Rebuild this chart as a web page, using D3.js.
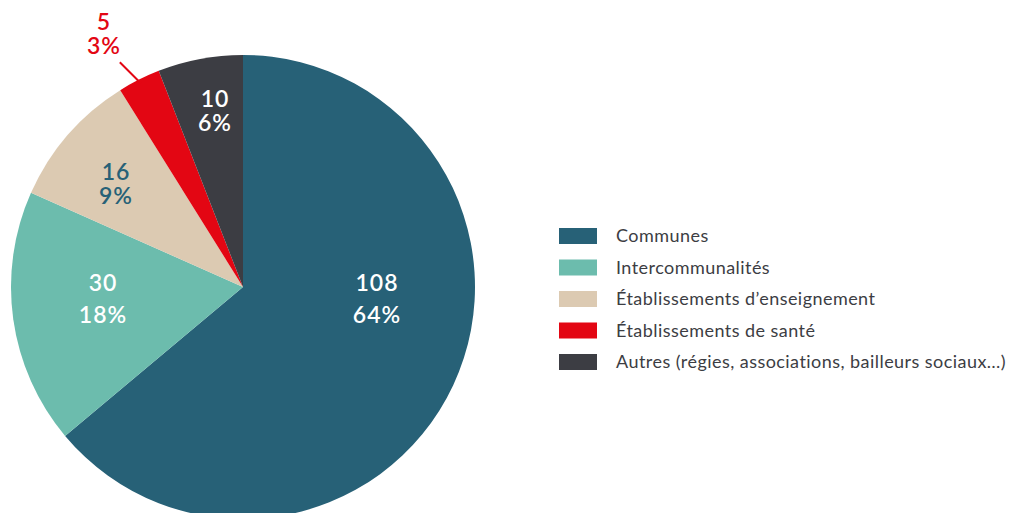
<!DOCTYPE html>
<html>
<head>
<meta charset="utf-8">
<script src="https://cdn.jsdelivr.net/npm/d3@7"></script>
<style>
  body { margin: 0; background: #fff; }
  svg { display: block; font-family: Lato, "Noto Sans", sans-serif; }
  .legend text { font-size: 18px; fill: #3c3d43; font-weight: 400; letter-spacing: 0.45px; }
  .val { font-size: 23px; font-weight: 600; letter-spacing: 1px; }
</style>
</head>
<body>
<svg id="chart" width="1010" height="513"></svg>
<script>
  const categories = [
    "Communes",
    "Intercommunalités",
    "Établissements d\u2019enseignement",
    "Établissements de santé",
    "Autres (régies, associations, bailleurs sociaux\u2026)",
  ];
  const values = [108, 30, 16, 5, 10];
  const percents = ["64%", "18%", "9%", "3%", "6%"];
  const colors = ["#276177", "#6cbcad", "#dccab2", "#e30613", "#3c3d43"];
  const labelColors = ["#fff", "#fff", "#276177", "#e30613", "#fff"];

  const width = 1010, height = 513;
  const cx = 243, cy = 287, radius = 232;

  const svg = d3.select("#chart");
  const g = svg.append("g").attr("transform", `translate(${cx},${cy})`);

  const pie = d3.pie().sort(null).value((d) => d.value);
  const data = categories.map((c, i) => ({ name: c, value: values[i], i }));
  const arcs = pie(data);
  const arc = d3.arc().innerRadius(0).outerRadius(radius);

  g.selectAll("path.slice")
    .data(arcs)
    .enter()
    .append("path")
    .attr("class", "slice")
    .attr("d", arc)
    .attr("fill", (d) => colors[d.index]);

  // hand tuned label spots, relative to pie centre
  const labelSpots = [[134, 8], [-140, 8], [-127, -105], [-139, -255], [-28, -178]];

  const labels = g.selectAll("g.lbl")
    .data(arcs)
    .enter()
    .append("g")
    .attr("class", "lbl")
    .attr("transform", (d) => `translate(${labelSpots[d.index]})`);

  labels.each(function (d) {
    const big = d.index <= 1;
    const t = d3.select(this);
    const y1 = big ? -4 : -2;
    const gap = big ? 32 : 24;
    [d.value, percents[d.index]].forEach((s, k) => {
      t.append("text")
        .attr("class", "val")
        .attr("text-anchor", "middle")
        .attr("fill", labelColors[d.index])
        .attr("y", y1 + k * gap)
        .text(s);
    });
  });

  // leader line for the small slice
  const small = arcs[3];
  const ma = (small.startAngle + small.endAngle) / 2;
  const p0 = [Math.sin(ma) * (radius - 4), -Math.cos(ma) * (radius - 4)];
  g.append("line")
    .attr("x1", p0[0])
    .attr("y1", p0[1])
    .attr("x2", p0[0] - 21)
    .attr("y2", p0[1] - 21)
    .attr("stroke", colors[3])
    .attr("stroke-width", 2);

  // legend
  const legend = svg.append("g").attr("class", "legend").attr("transform", "translate(559,228)");
  const y = d3.scaleBand().domain(categories).range([0, 157.5]);
  const row = legend.selectAll("g").data(categories).enter().append("g")
    .attr("transform", (d) => `translate(0,${y(d)})`);
  row.append("rect").attr("width", 38).attr("height", 16).attr("fill", (d, i) => colors[i]);
  row.append("text").attr("x", 57).attr("y", 8).attr("dy", "0.36em").text((d) => d);
</script>
</body>
</html>
